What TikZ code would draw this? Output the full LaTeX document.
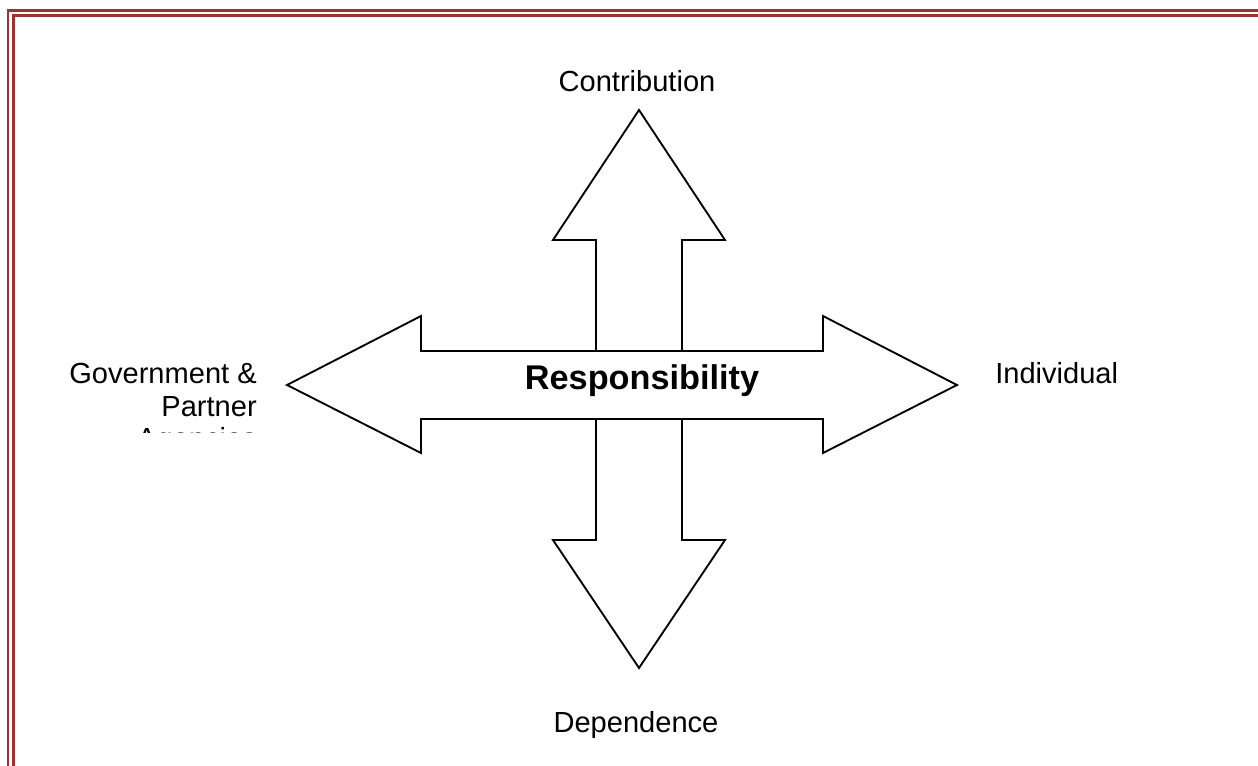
\documentclass[tikz,border=0pt]{standalone}
\usepackage{fontspec}
\setmainfont{Liberation Sans}
\usepackage{tikz}
\usepackage{xcolor}
\definecolor{framered}{RGB}{152,52,52}

\begin{document}
\begin{tikzpicture}[x=0.75pt, y=-0.75pt,
                    txt/.style={inner sep=0pt, font=\fontsize{21.8}{24.4}\selectfont},
                    bigtxt/.style={inner sep=0pt, font=\bfseries\fontsize{25.7}{30}\selectfont},
                    blockarrow/.style={draw, fill=white, line width=1.4pt, line join=miter},
                    frame/.style={draw=framered, line width=1.8pt}]
                    \useasboundingbox (0,0) rectangle (1258,766);

                    % page border
                    \draw[frame] (8,766) -- (8,10.5) -- (1258,10.5);
                    \draw[frame] (13.5,766) -- (13.5,15.5) -- (1258,15.5);

                    % vertical arrow
                    \draw[blockarrow] (639,110) -- (725,240) -- (682,240) -- (682,540)
                        -- (725,540) -- (639,668) -- (553,540) -- (596,540)
                        -- (596,240) -- (553,240) -- cycle;
                    % horizontal arrow
                    \draw[blockarrow] (287,385) -- (421,316) -- (421,351) -- (823,351)
                        -- (823,316) -- (957,385) -- (823,453) -- (823,419)
                        -- (421,419) -- (421,453) -- cycle;

                    \node[bigtxt, anchor=base] (resp) at (642,390) {Responsibility};
                    \node[txt, anchor=base] (contr) at (637,92) {Contribution};
                    \node[txt, anchor=base] (dep) at (636,732) {Dependence};
                    \node[txt, anchor=base west] (indiv) at (995,384) {Individual};

                    \begin{scope}
                        \clip (0,0) rectangle (1258,433);
                        \node[txt, anchor=north east, align=right] (gov) at (257,363)
                            {Government \&\\Partner\\Agencies};
                    \end{scope}
                \end{tikzpicture}
\end{document}
